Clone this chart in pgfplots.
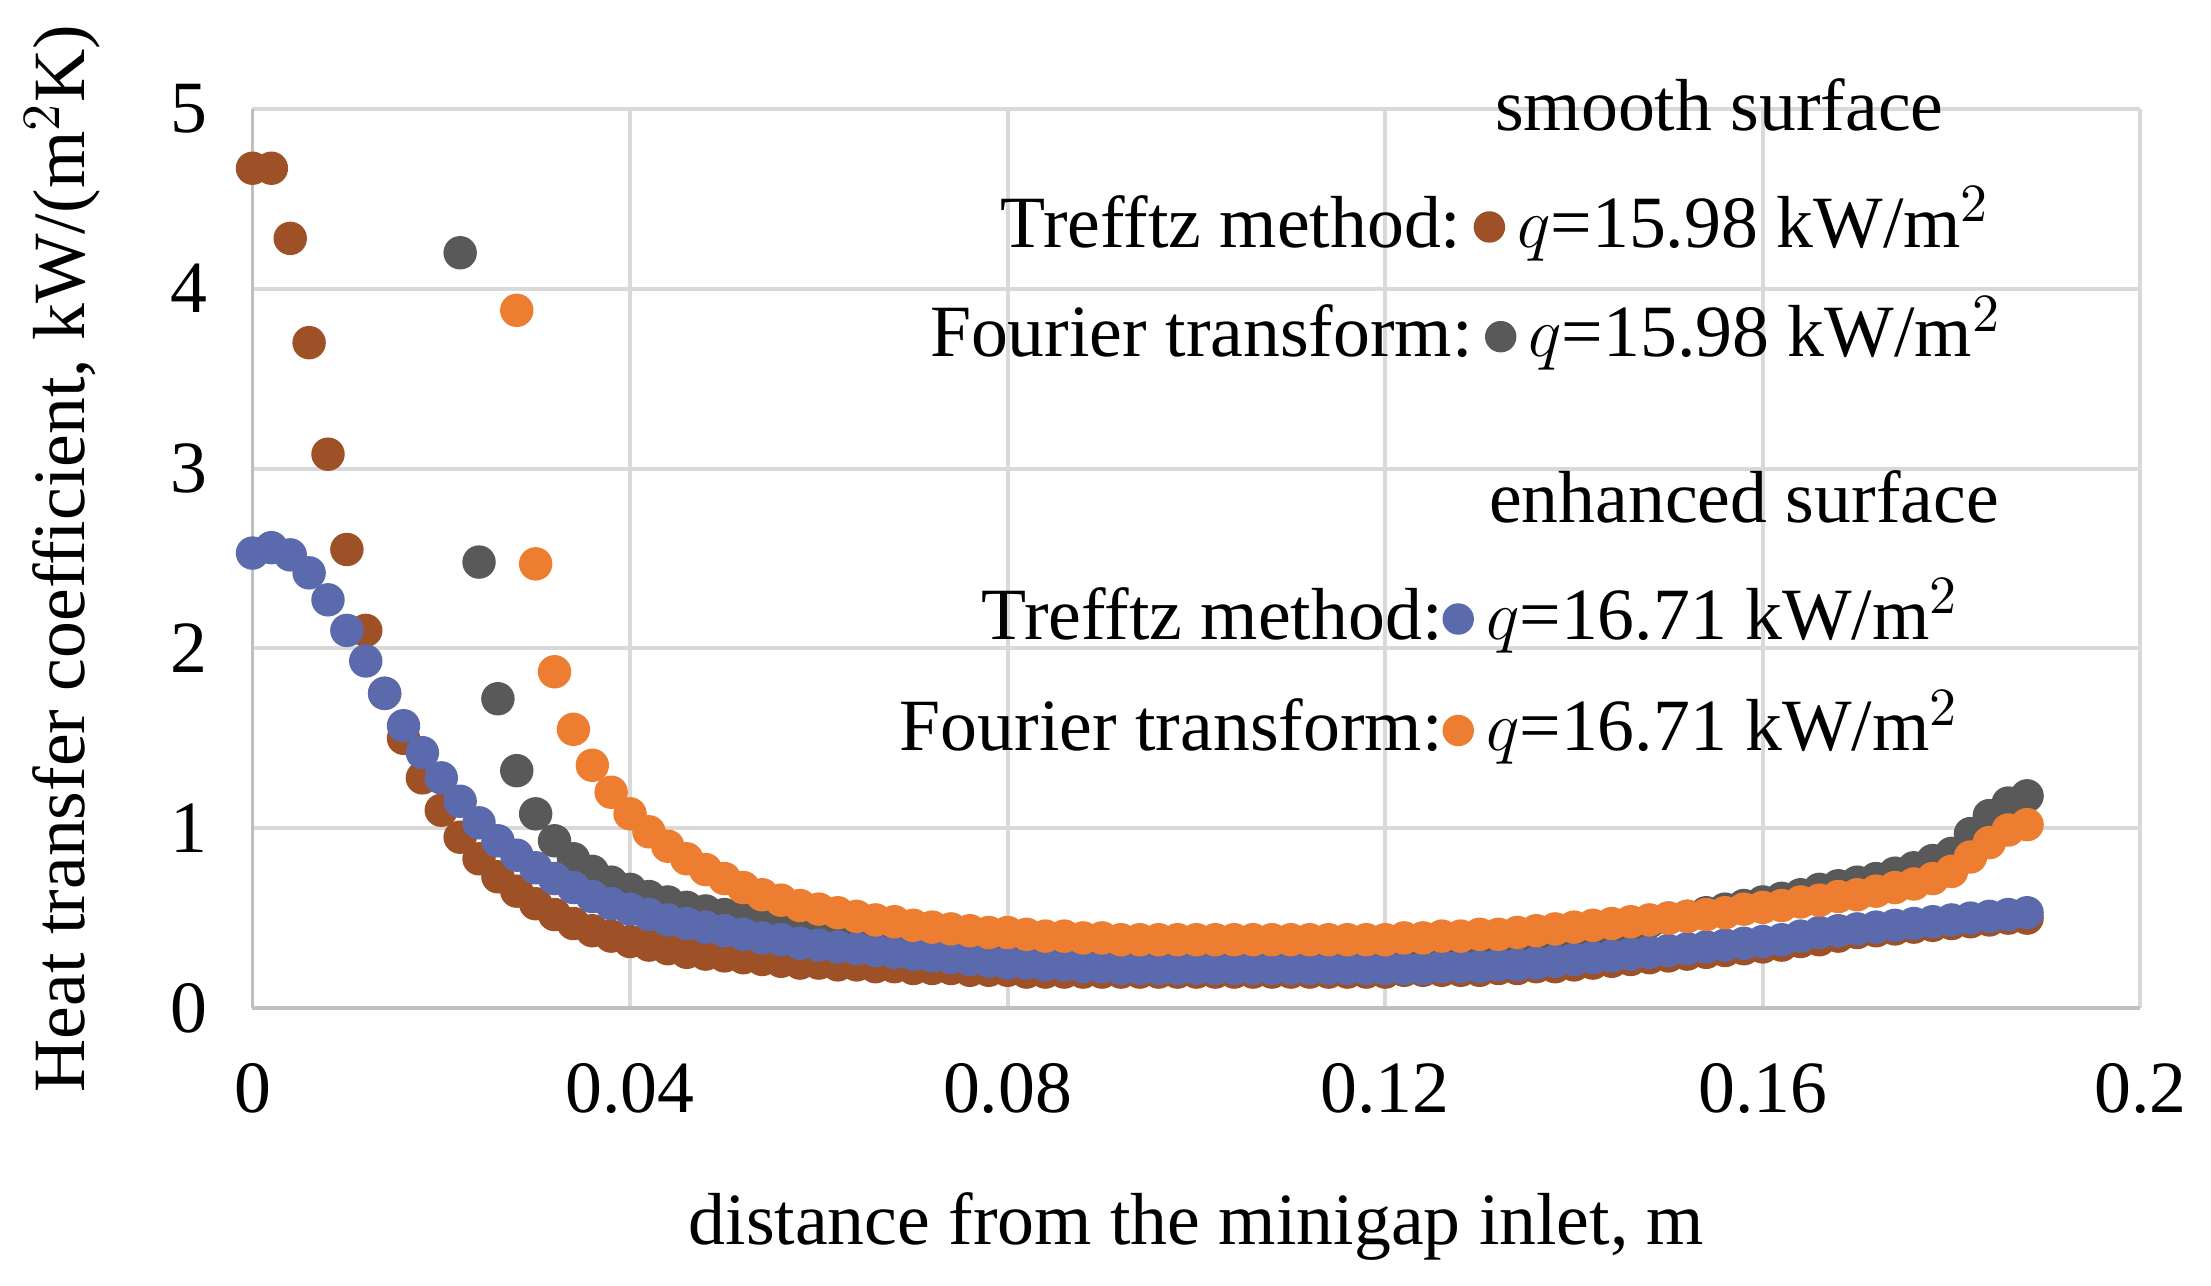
\documentclass[border=0pt]{standalone}
\usepackage{pgfplots}
\pgfplotsset{compat=1.18}
\usepackage{pgfplotstable}
\usepackage{fontspec}
\setmainfont{Liberation Serif}
\definecolor{cbrown}{RGB}{158,80,38}
\definecolor{cgray}{RGB}{89,89,89}
\definecolor{cblue}{RGB}{90,106,172}
\definecolor{corange}{RGB}{237,125,49}
\pgfplotstableread{
x y
0 4.67
0.002 4.67
0.004 4.28
0.006 3.70
0.008 3.08
0.010 2.55
0.012 2.10
0.014 1.75
0.016 1.50
0.018 1.28
0.020 1.10
0.022 0.95
0.024 0.83
0.026 0.73
0.028 0.65
0.030 0.58
0.032 0.52
0.034 0.47
0.036 0.43
0.038 0.40
0.040 0.37
0.042 0.35
0.044 0.33
0.046 0.31
0.048 0.30
0.050 0.29
0.052 0.28
0.054 0.27
0.056 0.26
0.058 0.25
0.060 0.25
0.062 0.24
0.064 0.24
0.066 0.23
0.068 0.23
0.070 0.22
0.072 0.22
0.074 0.22
0.076 0.21
0.078 0.21
0.080 0.21
0.082 0.20
0.084 0.20
0.086 0.20
0.088 0.20
0.090 0.20
0.092 0.20
0.094 0.20
0.096 0.20
0.098 0.20
0.100 0.20
0.102 0.20
0.104 0.20
0.106 0.20
0.108 0.20
0.110 0.20
0.112 0.20
0.114 0.20
0.116 0.20
0.118 0.20
0.120 0.20
0.122 0.21
0.124 0.21
0.126 0.21
0.128 0.21
0.130 0.21
0.132 0.22
0.134 0.22
0.136 0.23
0.138 0.23
0.140 0.24
0.142 0.25
0.144 0.26
0.146 0.27
0.148 0.28
0.150 0.29
0.152 0.30
0.154 0.31
0.156 0.32
0.158 0.33
0.160 0.34
0.162 0.35
0.164 0.37
0.166 0.38
0.168 0.40
0.170 0.42
0.172 0.43
0.174 0.44
0.176 0.45
0.178 0.46
0.180 0.47
0.182 0.48
0.184 0.49
0.186 0.50
0.188 0.50
}\smoothT
\pgfplotstableread{
x y
0 2.53
0.002 2.56
0.004 2.52
0.006 2.42
0.008 2.27
0.010 2.10
0.012 1.93
0.014 1.75
0.016 1.57
0.018 1.42
0.020 1.28
0.022 1.15
0.024 1.03
0.026 0.93
0.028 0.85
0.030 0.78
0.032 0.72
0.034 0.67
0.036 0.62
0.038 0.58
0.040 0.55
0.042 0.52
0.044 0.49
0.046 0.47
0.048 0.45
0.050 0.43
0.052 0.41
0.054 0.39
0.056 0.38
0.058 0.36
0.060 0.35
0.062 0.34
0.064 0.33
0.066 0.32
0.068 0.31
0.070 0.30
0.072 0.29
0.074 0.28
0.076 0.27
0.078 0.26
0.080 0.25
0.082 0.25
0.084 0.24
0.086 0.24
0.088 0.23
0.090 0.23
0.092 0.22
0.094 0.22
0.096 0.22
0.098 0.22
0.100 0.22
0.102 0.22
0.104 0.22
0.106 0.22
0.108 0.22
0.110 0.22
0.112 0.22
0.114 0.22
0.116 0.22
0.118 0.22
0.120 0.22
0.122 0.22
0.124 0.22
0.126 0.23
0.128 0.23
0.130 0.23
0.132 0.24
0.134 0.24
0.136 0.25
0.138 0.26
0.140 0.27
0.142 0.28
0.144 0.29
0.146 0.30
0.148 0.31
0.150 0.32
0.152 0.33
0.154 0.34
0.156 0.35
0.158 0.36
0.160 0.37
0.162 0.38
0.164 0.40
0.166 0.42
0.168 0.43
0.170 0.44
0.172 0.45
0.174 0.46
0.176 0.47
0.178 0.48
0.180 0.49
0.182 0.50
0.184 0.51
0.186 0.52
0.188 0.53
}\enhT
\pgfplotstableread{
x y
0.022 4.20
0.024 2.48
0.026 1.72
0.028 1.32
0.030 1.08
0.032 0.93
0.034 0.83
0.036 0.76
0.038 0.70
0.040 0.66
0.042 0.62
0.044 0.59
0.046 0.56
0.048 0.54
0.050 0.52
0.052 0.50
0.054 0.48
0.056 0.46
0.058 0.44
0.060 0.42
0.062 0.41
0.064 0.40
0.066 0.39
0.068 0.38
0.070 0.37
0.072 0.36
0.074 0.35
0.076 0.34
0.078 0.33
0.080 0.32
0.082 0.31
0.084 0.31
0.086 0.31
0.088 0.31
0.090 0.31
0.092 0.31
0.094 0.31
0.096 0.31
0.098 0.31
0.100 0.31
0.102 0.31
0.104 0.31
0.106 0.31
0.108 0.31
0.110 0.31
0.112 0.32
0.114 0.32
0.116 0.32
0.118 0.32
0.120 0.32
0.122 0.33
0.124 0.33
0.126 0.34
0.128 0.35
0.130 0.36
0.132 0.37
0.134 0.38
0.136 0.39
0.138 0.40
0.140 0.42
0.142 0.43
0.144 0.44
0.146 0.46
0.148 0.48
0.150 0.50
0.152 0.51
0.154 0.53
0.156 0.55
0.158 0.57
0.160 0.59
0.162 0.61
0.164 0.63
0.166 0.66
0.168 0.68
0.170 0.70
0.172 0.72
0.174 0.75
0.176 0.78
0.178 0.82
0.180 0.86
0.182 0.97
0.184 1.07
0.186 1.14
0.188 1.18
}\smoothF
\pgfplotstableread{
x y
0.028 3.88
0.030 2.47
0.032 1.87
0.034 1.55
0.036 1.35
0.038 1.20
0.040 1.08
0.042 0.98
0.044 0.90
0.046 0.83
0.048 0.77
0.050 0.72
0.052 0.67
0.054 0.63
0.056 0.60
0.058 0.57
0.060 0.55
0.062 0.53
0.064 0.51
0.066 0.49
0.068 0.48
0.070 0.46
0.072 0.45
0.074 0.44
0.076 0.43
0.078 0.42
0.080 0.42
0.082 0.41
0.084 0.40
0.086 0.40
0.088 0.39
0.090 0.39
0.092 0.38
0.094 0.38
0.096 0.38
0.098 0.38
0.100 0.38
0.102 0.38
0.104 0.38
0.106 0.38
0.108 0.38
0.110 0.38
0.112 0.38
0.114 0.38
0.116 0.38
0.118 0.38
0.120 0.38
0.122 0.39
0.124 0.39
0.126 0.40
0.128 0.40
0.130 0.41
0.132 0.41
0.134 0.42
0.136 0.43
0.138 0.44
0.140 0.45
0.142 0.46
0.144 0.47
0.146 0.48
0.148 0.49
0.150 0.50
0.152 0.51
0.154 0.52
0.156 0.53
0.158 0.55
0.160 0.56
0.162 0.57
0.164 0.59
0.166 0.60
0.168 0.62
0.170 0.63
0.172 0.65
0.174 0.67
0.176 0.69
0.178 0.72
0.180 0.76
0.182 0.84
0.184 0.92
0.186 0.99
0.188 1.02
}\enhF
\newcommand{\ldot}[1]{\tikz[baseline=-0.6ex]\fill[#1] (0,0) circle (3.2pt);}
\begin{document}
\begin{tikzpicture}
\fontsize{15}{18}\selectfont
\begin{axis}[
  scale only axis, width=13.5cm, height=6.43cm,
  xmin=0, xmax=0.2, ymin=0, ymax=5,
  xtick={0,0.04,0.08,0.12,0.16,0.2},
  xticklabels={0,0.04,0.08,0.12,0.16,0.2},
  ytick={0,1,2,3,4,5},
  grid=major, major grid style={gray!30, line width=0.8pt},
  axis line style={gray!50, line width=0.8pt},
  tick style={draw=none},
  axis x line*=bottom, axis y line*=left,
  ticklabel style={font=\fontsize{15}{18}\selectfont},
  label style={font=\fontsize{15}{18}\selectfont},
  /pgf/number format/assume math mode=true,
  xticklabel style={yshift=-6pt},
  yticklabel style={xshift=-4pt},
  xlabel={distance from the minigap inlet, m},
  ylabel={Heat transfer coefficient, kW/(m$^2$K)},
  xlabel style={yshift=-6pt},
  ylabel style={yshift=4pt},
  clip=false,
]
\addplot[only marks, mark=*, mark size=3.2pt, color=cbrown] table {\smoothT};
\addplot[only marks, mark=*, mark size=3.2pt, color=cgray] table {\smoothF};
\addplot[only marks, mark=*, mark size=3.2pt, color=cblue] table {\enhT};
\addplot[only marks, mark=*, mark size=3.2pt, color=corange] table {\enhF};
\node at (axis cs:0.1554,5.02) {smooth surface};
\node[anchor=east] at (axis cs:0.1868,4.36) {Trefftz method:\,\ldot{cbrown}\,$q$=15.98 kW/m$^2$};
\node[anchor=east] at (axis cs:0.1880,3.75) {Fourier transform:\,\ldot{cgray}\,$q$=15.98 kW/m$^2$};
\node at (axis cs:0.158,2.84) {enhanced surface};
\node[anchor=east] at (axis cs:0.1835,2.18) {Trefftz method:\ldot{cblue}\,$q$=16.71 kW/m$^2$};
\node[anchor=east] at (axis cs:0.1835,1.56) {Fourier transform:\ldot{corange}\,$q$=16.71 kW/m$^2$};
\end{axis}
\end{tikzpicture}
\end{document}
